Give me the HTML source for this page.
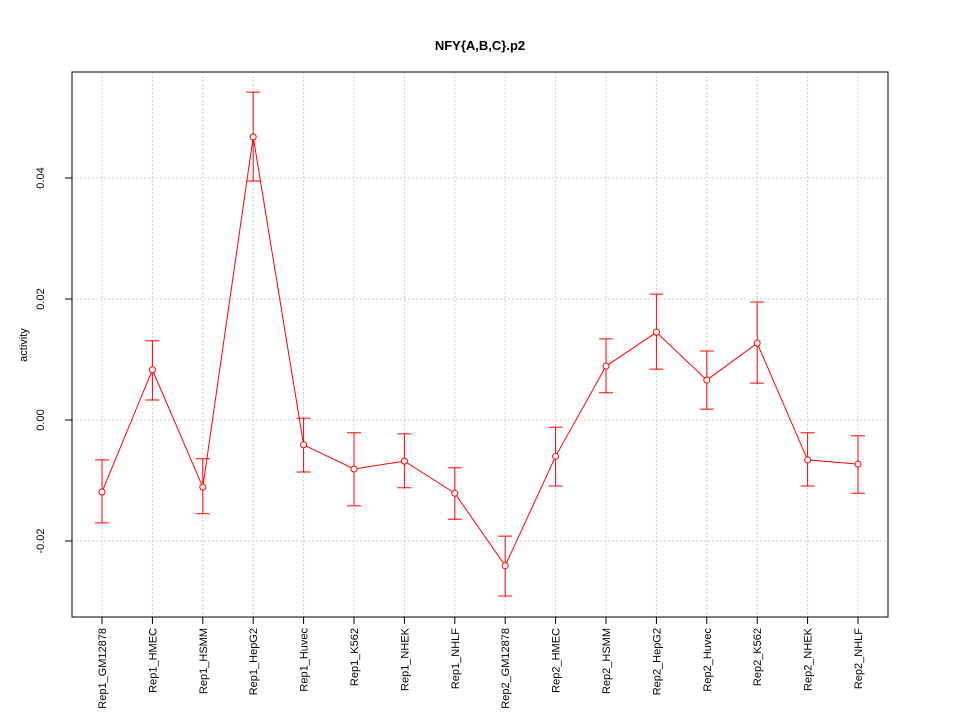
<!DOCTYPE html>
<html><head><meta charset="utf-8"><style>
html,body{margin:0;padding:0;background:#fff;}
svg{display:block;font-family:"Liberation Sans",sans-serif;}
</style></head><body>
<svg id="chart" width="960" height="720">
<rect width="960" height="720" fill="#fff"/>
<text x="480" y="50" text-anchor="middle" font-size="13" font-weight="bold">NFY{A,B,C}.p2</text>
<text transform="translate(27,345) rotate(-90)" text-anchor="middle" font-size="11">activity</text>
<g id="grid"></g><g id="axes"></g><g id="marks"></g>
<rect x="72" y="72" width="816" height="545" fill="none" stroke="#000"/>
</svg>
<script>
const categories=["Rep1_GM12878","Rep1_HMEC","Rep1_HSMM","Rep1_HepG2","Rep1_Huvec","Rep1_K562","Rep1_NHEK","Rep1_NHLF","Rep2_GM12878","Rep2_HMEC","Rep2_HSMM","Rep2_HepG2","Rep2_Huvec","Rep2_K562","Rep2_NHEK","Rep2_NHLF"];
const values=[-0.0119,0.0083,-0.0111,0.0468,-0.0041,-0.0081,-0.0068,-0.0121,-0.0241,-0.0060,0.0089,0.0145,0.0066,0.0127,-0.0066,-0.0073];
const upper=[-0.0066,0.0131,-0.0064,0.0542,0.0003,-0.0021,-0.0023,-0.0079,-0.0192,-0.0012,0.0134,0.0208,0.0114,0.0195,-0.0021,-0.0026];
const lower=[-0.0170,0.0033,-0.0155,0.0395,-0.0086,-0.0142,-0.0112,-0.0164,-0.0291,-0.0109,0.0045,0.0084,0.0018,0.0061,-0.0109,-0.0121];
const yTicks=[-0.02,0.00,0.02,0.04];
const yTickLabels=["-0.02","0.00","0.02","0.04"];
const NS="http://www.w3.org/2000/svg";
const x=i=>102+i*(756/15);
const y=v=>420-v*6050;
function mk(p,t,a){const e=document.createElementNS(NS,t);for(const k in a)e.setAttribute(k,a[k]);p.appendChild(e);return e;}
const grid=document.getElementById('grid'),axes=document.getElementById('axes'),marks=document.getElementById('marks');
categories.forEach((c,i)=>{
 const g=mk(grid,'line',{x1:x(i),x2:x(i),y1:72,y2:617,stroke:'#ccc','stroke-dasharray':'2,2'});
 
 
 const t=mk(axes,'line',{x1:x(i),x2:x(i),y1:617,y2:624,stroke:'#000'});
 
 
 const l=mk(axes,'text',{transform:`translate(${x(i)+4},628) rotate(-90)`,'text-anchor':'end','font-size':'11'});
 l.textContent=c;
 
 
});
yTicks.forEach((v,i)=>{
 const g=mk(grid,'line',{x1:72,x2:888,y1:y(v),y2:y(v),stroke:'#ccc','stroke-dasharray':'2,2'});
 
 
 const t=mk(axes,'line',{x1:65,x2:72,y1:y(v),y2:y(v),stroke:'#000'});
 
 
 const l=mk(axes,'text',{transform:`translate(44,${y(v)}) rotate(-90)`,'text-anchor':'middle','font-size':'11'});
 l.textContent=yTickLabels[i];
 
 
});
const line=mk(marks,'polyline',{points:values.map((v,i)=>x(i)+','+y(v)).join(' '),fill:'none',stroke:'#f00'});


values.forEach((v,i)=>{
 const eb=mk(marks,'path',{d:`M${x(i)},${y(upper[i])}V${y(lower[i])}M${x(i)-7},${y(upper[i])}H${x(i)+7}M${x(i)-7},${y(lower[i])}H${x(i)+7}`,stroke:'#f00',fill:'none'});
 
 
 const p=mk(marks,'circle',{cx:x(i),cy:y(v),r:3,fill:'#fff',stroke:'#f00'});
 
 
});
</script>
</body></html>
